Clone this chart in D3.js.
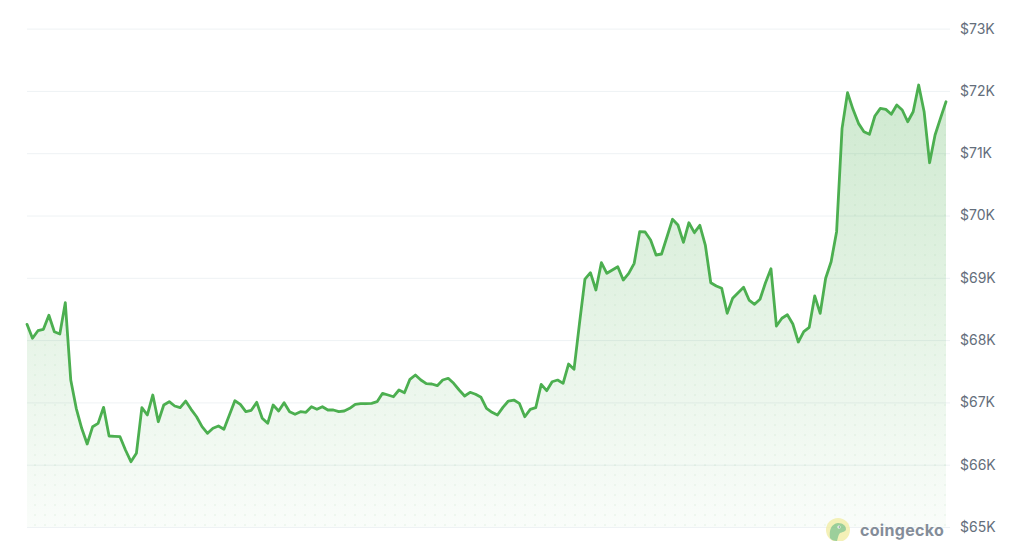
<!DOCTYPE html>
<html>
<head>
<meta charset="utf-8">
<script src="https://cdn.jsdelivr.net/npm/d3@7"></script>
<style>
  html, body { margin: 0; padding: 0; background: #fff; }
  #chart { width: 1024px; height: 541px; }
  .yAxis text { font-family: Inter, "Noto Sans", sans-serif; font-size: 14px; fill: #646e7b; }
</style>
</head>
<body>
<div id="chart"></div>
<script>
// hourly BTC price, 7 days (one value per hour)
const prices = [68253, 68029, 68151, 68173, 68398, 68135, 68098, 68600, 67359, 66905,
    66584, 66332, 66610, 66664, 66921, 66461, 66455, 66449, 66236, 66048,
    66183, 66915, 66798, 67119, 66690, 66958, 67011, 66942, 66915, 67022,
    66889, 66770, 66610, 66504, 66584, 66621, 66568, 66798, 67027, 66969,
    66851, 66873, 67001, 66745, 66664, 66958, 66862, 66995, 66851, 66809,
    66851, 66841, 66931, 66889, 66931, 66878, 66878, 66851, 66862, 66905,
    66969, 66979, 66979, 66985, 67011, 67146, 67119, 67091, 67199, 67156,
    67371, 67440, 67359, 67300, 67295, 67268, 67359, 67387, 67306, 67199,
    67103, 67162, 67130, 67082, 66905, 66841, 66798, 66921, 67022, 67038,
    66985, 66770, 66889, 66915, 67290, 67188, 67332, 67359, 67306, 67616,
    67531, 68269, 68980, 69082, 68804, 69242, 69072, 69125, 69178, 68964,
    69072, 69232, 69740, 69735, 69606, 69366, 69382, 69659, 69939, 69847,
    69569, 69884, 69724, 69842, 69526, 68921, 68868, 68831, 68430, 68671,
    68761, 68847, 68643, 68574, 68655, 68921, 69146, 68226, 68350, 68407,
    68258, 67969, 68135, 68205, 68708, 68430, 68992, 69258, 69740, 71399,
    71971, 71704, 71479, 71345, 71303, 71597, 71720, 71704, 71624, 71773,
    71693, 71505, 71666, 72094, 71666, 70847, 71292, 71564, 71826];

const yTicks = [65000, 66000, 67000, 68000, 69000, 70000, 71000, 72000, 73000];
const yTickLabels = ["$65K", "$66K", "$67K", "$68K", "$69K", "$70K", "$71K", "$72K", "$73K"];
const brand = "coingecko";

let width = 1024,
    height = 541;

let svg = d3.select('#chart').append('svg')
    .attr('width', width)
    .attr('height', height);

let x = d3.scaleLinear()
    .domain([0, prices.length - 1])
    .range([27, 946]);

let y = d3.scaleLinear()
    .domain([65000, 73000])
    .range([527, 28.6]);

let defs = svg.append('defs');

let grad = defs.append('linearGradient')
    .attr('id', 'fillGrad')
    .attr('gradientUnits', 'userSpaceOnUse')
    .attr('x1', 0).attr('y1', y(72000))
    .attr('x2', 0).attr('y2', y(65000));
grad.append('stop').attr('offset', '0%').attr('stop-color', '#4caf50').attr('stop-opacity', 0.27);
grad.append('stop').attr('offset', '100%').attr('stop-color', '#4caf50').attr('stop-opacity', 0.03);

// little dot texture inside the area
let pat = defs.append('pattern')
    .attr('id', 'dots')
    .attr('patternUnits', 'userSpaceOnUse')
    .attr('width', 10)
    .attr('height', 10);
pat.append('circle')
    .attr('cx', 5).attr('cy', 5).attr('r', 1.1)
    .attr('fill', '#4caf50')
    .attr('fill-opacity', 0.07);

// grid lines
let grid = d3.axisLeft(y)
    .tickValues(yTicks)
    .tickSize(-(950 - 27))
    .tickFormat('');

svg.append('g')
    .attr('transform', 'translate(27,0)')
    .call(grid)
    .call(g => g.select('.domain').remove())
    .call(g => g.selectAll('.tick line').attr('stroke', '#eef2f4').attr('stroke-width', 1));

let area = d3.area()
    .x((d, i) => x(i))
    .y0(y(65000))
    .y1(d => y(d));

let line = d3.line()
    .x((d, i) => x(i))
    .y(d => y(d));

svg.append('path')
    .datum(prices)
    .attr('d', area)
    .attr('fill', 'url(#fillGrad)');

svg.append('path')
    .datum(prices)
    .attr('d', area)
    .attr('fill', 'url(#dots)');

svg.append('path')
    .datum(prices)
    .attr('d', line)
    .attr('fill', 'none')
    .attr('stroke', '#4caf50')
    .attr('stroke-width', 2.8)
    .attr('stroke-linejoin', 'round')
    .attr('stroke-linecap', 'round');

// price labels on the right
let yAxis = d3.axisRight(y)
    .tickValues(yTicks)
    .tickSize(0)
    .tickPadding(0)
    .tickFormat((d, i) => yTickLabels[i]);

svg.append('g')
    .attr('class', 'yAxis')
    .attr('transform', 'translate(960,0)')
    .call(yAxis)
    .call(g => g.select('.domain').remove());

// watermark
let logo = svg.append('g').attr('transform', 'translate(838,530)').style('opacity', 0.75);
logo.append('circle').attr('r', 12).attr('fill', '#f1eca0');
logo.append('path')
    .attr('d', 'M-8,8 C-9,0 -7,-6 0,-7 C5,-7 8,-4 8,-1 C8,2 4,2 2,3 C0,5 0,8 -1,11 C-4,11 -7,10 -8,8 Z')
    .attr('fill', '#7cc07a');
logo.append('circle').attr('cx', 1).attr('cy', -3).attr('r', 1.6).attr('fill', '#fff');
logo.append('circle').attr('cx', 1.3).attr('cy', -3).attr('r', 0.8).attr('fill', '#4a5560');

svg.append('text')
    .attr('x', 860)
    .attr('y', 536)
    .attr('font-family', 'Inter, "Noto Sans", sans-serif')
    .attr('font-weight', 700)
    .attr('font-size', '16px')
    .attr('letter-spacing', '0.3px')
    .attr('fill', '#848d99')
    .text(brand);
</script>
</body>
</html>
